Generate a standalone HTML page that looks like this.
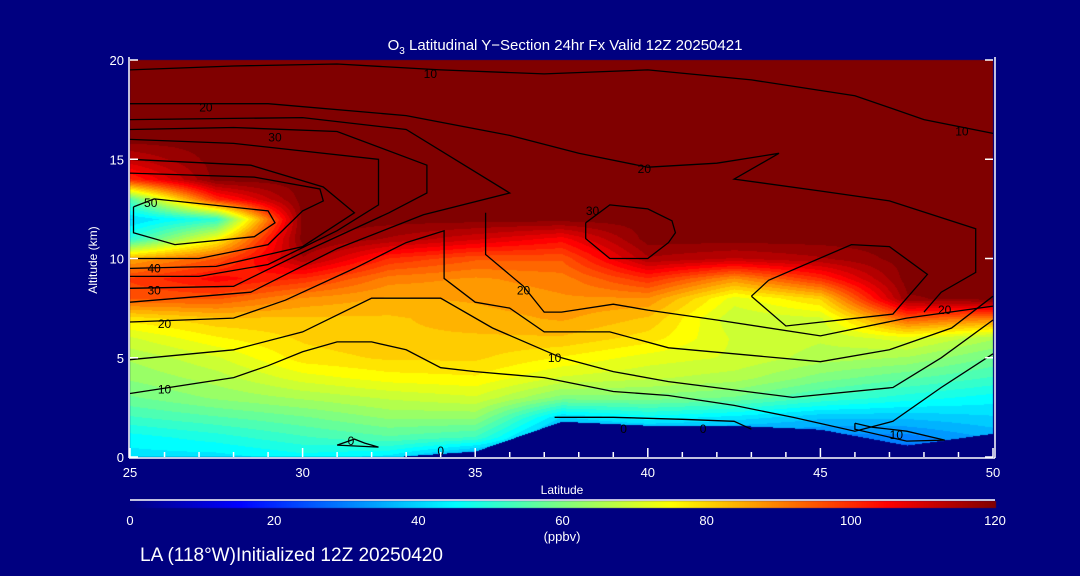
<!DOCTYPE html>
<html><head><meta charset="utf-8"><style>
html,body{margin:0;padding:0;background:#000080;}
#wrap{position:relative;width:1080px;height:576px;background:#000080;overflow:hidden;font-family:"Liberation Sans",sans-serif;color:#fff;}
canvas{position:absolute;left:0;top:0;}
svg{position:absolute;left:0;top:0;}
</style></head><body>
<div id="wrap">
<canvas id="cv" width="1080" height="576"></canvas>
<svg id="sv" width="1080" height="576"></svg>
</div>
<script>
// ---- data ----
const lats = [25,27.5,30,32.5,35,37.5,40,42.5,45,47.5,50];
const alts = [0,1,2,3,4,5,6,7,8,9,10,11,12,13,14,15,16,17,18,19,20];
// terrain height (km) per latitude column
const terrain = [0,0,0,0,0.3,1.8,1.6,1.6,1.4,0.6,1.2];
// ozone (ppbv) per latitude column, altitude 0..20 km
const o3_25   = [42,45,52,58,62,65,70,78,95,98,85,50,40,55,100,112,120,120,120,120,120];
const o3_275  = [42,48,55,62,66,70,76,82,95,105,95,75,50,100,120,120,120,120,120,120,120];
const o3_30   = [45,52,58,65,72,78,80,82,88,100,115,120,120,120,120,120,120,120,120,120,120];
const o3_325  = [42,55,62,68,75,80,82,82,85,90,100,115,120,120,120,120,120,120,120,120,120];
const o3_35   = [30,52,62,70,76,80,82,84,86,88,95,110,120,120,120,120,120,120,120,120,120];
const o3_375  = [30,30,40,60,70,76,82,86,88,90,95,105,120,120,120,120,120,120,120,120,120];
const o3_40   = [30,30,45,60,68,72,78,82,88,100,115,120,120,120,120,120,120,120,120,120,120];
const o3_425  = [30,30,42,58,66,70,70,68,72,88,112,120,120,120,120,120,120,120,120,120,120];
const o3_45   = [30,30,38,52,60,66,68,70,80,100,115,120,120,120,120,120,120,120,120,120,120];
const o3_475  = [25,30,38,48,56,64,72,95,118,120,120,120,120,120,120,120,120,120,120,120,120];
const o3_50   = [25,35,40,45,52,58,65,90,120,120,120,120,120,120,120,120,120,120,120,120,120];
const columns = [o3_25,o3_275,o3_30,o3_325,o3_35,o3_375,o3_40,o3_425,o3_45,o3_475,o3_50];
// contour lines [lat, alt]
const contourLines = [
 [[25,3.2],[28,4.0],[29,4.6],[30,5.3],[31,5.8],[32,5.8],[33,5.4],[34,4.5],[35,4.3],[37,4.0],[39,3.3],[40.6,3.1],[42.5,2.6],[44.2,2.0],[46,1.3],[47.1,1.8],[48.5,3.5],[50,5.2]],
 [[25,4.9],[28,5.4],[30,6.3],[32,8.0],[34,8.0],[35.5,6.5],[37.5,5.0],[39,4.3],[40.6,3.8],[44.2,3.0],[47.1,3.5],[48.5,5.0],[50,6.9]],
 [[25,6.8],[28,7.0],[29.5,7.9],[31.5,9.5],[33,10.8],[34.1,11.4],[34.1,9.0],[35,7.8],[36,7.5],[37,6.3],[38.9,6.3],[40.6,5.5],[45,4.8],[47,5.4],[48.8,6.5],[50,8.1]],
 [[35.3,12.3],[35.3,10.2],[36.4,8.6],[37,7.3],[37.5,7.3],[39,7.7],[40,7.4],[42,6.9],[45,6.1],[47.5,7.0],[50,7.6]],
 [[25.1,12.6],[25.7,13.0],[29,12.4],[29.2,11.8],[28.6,11.1],[26.3,10.7],[25.1,11.3],[25.1,12.6]],
 [[25,14.3],[28.6,14.1],[30.5,13.5],[30.6,12.9],[30,12.4],[29,10.7],[27,10.0],[25,10.0]],
 [[25,15.0],[28.5,14.7],[30.6,13.6],[31.5,12.3],[30,10.6],[27.5,9.6],[25,9.5]],
 [[25,16.0],[28,15.8],[32.2,15.0],[32.2,12.7],[31,11.4],[29,9.7],[27,9.1],[25,9.1]],
 [[25,16.5],[28,16.6],[31,16.4],[33.6,14.7],[33.6,13.3],[32.5,12.3],[30,10.3],[28,8.6],[25,8.5]],
 [[25,17.0],[30,17.1],[33,16.5],[36,13.3],[33.5,12.2],[31,10.5],[28.5,8.3],[25,7.8]],
 [[25,17.8],[29,17.8],[33,17.2],[36,16.2],[38,15.3],[40,14.6],[42,14.8],[43.8,15.3],[42.5,14.0],[45,13.4],[47,12.9],[49.5,11.5],[49.5,9.3],[48.5,8.3],[48,7.3]],
 [[25,19.5],[28,19.7],[31,19.8],[34,19.5],[37,19.3],[40,19.5],[43,19.0],[46,18.2],[48,17.0],[50,16.3]],
 [[38.2,11.8],[38.9,12.7],[40,12.5],[40.7,11.9],[40.8,11.3],[40.6,10.8],[40,10.0],[38.9,10.0],[38.2,11.0],[38.2,11.8]],
 [[43,8.1],[43.5,8.9],[45.9,10.7],[47,10.6],[48.1,9.2],[47.1,7.2],[44,6.6],[43,8.1]],
 [[37.3,2.0],[39,2.0],[41,1.9],[42.5,1.8],[43,1.4]],
 [[46,1.7],[46,1.4],[47.5,0.8],[48.6,0.85],[47.5,1.3],[46.5,1.5],[46,1.7]],
 [[31,0.6],[31.5,0.9],[31.8,0.7],[32.2,0.5],[31,0.6]]
];
const contourLabels = [["10",33.7,19.3],["20",27.2,17.6],["30",29.2,16.1],["50",25.6,12.8],["40",25.7,9.5],["30",25.7,8.4],["20",26,6.7],["10",26,3.4],["0",31.4,0.8],["0",34,0.3],["20",36.4,8.4],["10",37.3,5.0],["30",38.4,12.4],["20",39.9,14.5],["10",49.1,16.4],["20",48.6,7.4],["10",47.2,1.1],["0",39.3,1.4],["0",41.6,1.4]];
const xTicks = [25,30,35,40,45,50];
const yTicks = [0,5,10,15,20];
const cbTicks = [0,20,40,60,80,100,120];

// ---- axes ----
const X0=130,X1=993,Y0=457,Y1=60;
const xs = lat => X0 + (lat-25)/25*(X1-X0);
const ys = a => Y0 - a/20*(Y0-Y1);
function jet(v){
  const t=Math.max(0,Math.min(1,v/120));
  const c=x=>Math.round(255*Math.max(0,Math.min(1,x)));
  return [c(1.5-Math.abs(4*t-3)),c(1.5-Math.abs(4*t-2)),c(1.5-Math.abs(4*t-1))];
}
function interpCols(arr,lat){
  let fi=(lat-25)/2.5; fi=Math.max(0,Math.min(lats.length-1.0001,fi));
  const i=Math.floor(fi),u=fi-i; return arr[i]*(1-u)+arr[i+1]*u;
}
function val(lat,alt){
  let fi=(lat-25)/2.5; fi=Math.max(0,Math.min(lats.length-1.0001,fi));
  let fj=Math.max(0,Math.min(alts.length-1.0001,alt));
  const i=Math.floor(fi),j=Math.floor(fj),u=fi-i,w=fj-j;
  const a=columns[i][j],b=columns[i+1][j],c=columns[i][j+1],d=columns[i+1][j+1];
  return a*(1-u)*(1-w)+b*u*(1-w)+c*(1-u)*w+d*u*w;
}
const cv=document.getElementById('cv'),ctx=cv.getContext('2d');
const W=X1-X0,H=Y0-Y1;
const img=ctx.createImageData(W,H);
for(let py=0;py<H;py++){for(let px=0;px<W;px++){
  const lat=25+px/W*25, alt=(H-py)/H*20;
  let c;
  if(alt<interpCols(terrain,lat)) c=[0,0,128];
  else {let v=val(lat,alt); v=Math.round(v/3)*3; c=jet(v);}
  const k=(py*W+px)*4;
  img.data[k]=c[0];img.data[k+1]=c[1];img.data[k+2]=c[2];img.data[k+3]=255;
}}
ctx.putImageData(img,X0,Y1);
// colorbar
for(let px=0;px<=865;px++){const c=jet(px/865*120);ctx.fillStyle=`rgb(${c[0]},${c[1]},${c[2]})`;ctx.fillRect(130+px,501,1,7);}

const NS='http://www.w3.org/2000/svg',sv=document.getElementById('sv');
function mk(tag,attrs,parent){const e=document.createElementNS(NS,tag);for(const k in attrs)e.setAttribute(k,attrs[k]);(parent||sv).appendChild(e);return e;}
const cg=mk('g',{});


contourLines.forEach(line=>{
  const p=mk('polyline',{points:line.map(q=>xs(q[0]).toFixed(1)+','+ys(q[1]).toFixed(1)).join(' '),fill:'none',stroke:'#000','stroke-width':1.3},cg);
  
  
});
contourLabels.forEach(l=>{
  const t=mk('text',{x:xs(l[1]),y:ys(l[2])+4,'font-size':12,fill:'#000','text-anchor':'middle'},cg);
  t.textContent=l[0];
  
  
});
// axes box
const ax=mk('g',{stroke:'#fff','stroke-width':1.5,fill:'none'});


mk('line',{x1:X0-1,y1:Y0+1,x2:X1+2,y2:Y0+1},ax);
mk('line',{x1:X0-1,y1:Y1-3,x2:X0-1,y2:Y0+1},ax);
mk('line',{x1:X1+2,y1:Y1-3,x2:X1+2,y2:Y0+1},ax);
for(let l=25;l<=50;l++){const major=l%5===0;mk('line',{x1:xs(l),x2:xs(l),y1:Y0,y2:Y0-(major?9:5)},ax);}
for(let a=0;a<=20;a++){if(a%5===0){mk('line',{x1:X0,x2:X0+8,y1:ys(a),y2:ys(a)},ax);mk('line',{x1:X1,x2:X1-8,y1:ys(a),y2:ys(a)},ax);}}
xTicks.forEach(l=>{const t=mk('text',{x:xs(l),y:477,'font-size':13,fill:'#fff','text-anchor':'middle'});t.textContent=l;
  });
yTicks.forEach(a=>{const t=mk('text',{x:124,y:ys(a)+5,'font-size':13,fill:'#fff','text-anchor':'end'});t.textContent=a;
  });
mk('line',{x1:130,x2:995,y1:500,y2:500,stroke:'#fff','stroke-width':1.5});
cbTicks.forEach((v,i)=>{const t=mk('text',{x:130+v/120*865,y:525,'font-size':13,fill:'#fff','text-anchor':'middle'});t.textContent=v;
  });
</script>
<svg width="1080" height="576" style="position:absolute;left:0;top:0">
<text x="565" y="50" font-family="Liberation Sans" font-size="15" fill="#fff" text-anchor="middle">O<tspan font-size="10" dy="4">3</tspan><tspan dy="-4"> Latitudinal Y−Section 24hr  Fx Valid 12Z 20250421</tspan></text>
<text x="562" y="494" font-family="Liberation Sans" font-size="12" fill="#fff" text-anchor="middle">Latitude</text>
<text x="97" y="260" font-family="Liberation Sans" font-size="12" fill="#fff" text-anchor="middle" transform="rotate(-90 97 260)">Altitude (km)</text>
<text x="562" y="541" font-family="Liberation Sans" font-size="13" fill="#fff" text-anchor="middle">(ppbv)</text>
<text x="140" y="561" font-family="Liberation Sans" font-size="19" fill="#fff">LA (118°W)Initialized 12Z 20250420</text>
</svg>
</body></html>
